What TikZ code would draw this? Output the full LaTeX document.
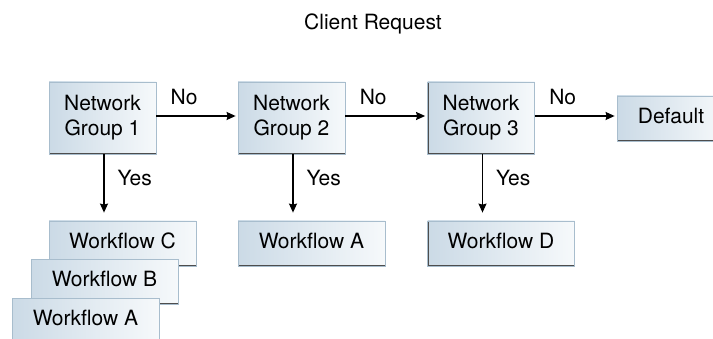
\documentclass[tikz,border=0pt]{standalone}
\usepackage{fontspec}
\setmainfont{TeX Gyre Heros}
\usetikzlibrary{arrows.meta}
\definecolor{boxleft}{HTML}{CBDAE6}
\definecolor{boxright}{HTML}{F6F9FB}
\definecolor{boxedge}{HTML}{A8BDCD}
\definecolor{boxshade}{HTML}{4D4D4D}
\begin{document}
\begin{tikzpicture}[x=1pt, y=-1pt, font=\fontsize{21}{25}\selectfont,
    box/.style={draw=boxedge, line width=.8pt, left color=boxleft, right color=boxright, inner sep=0pt,
      path picture={\draw[boxshade, line width=2.4pt] (path picture bounding box.north west)
        -- (path picture bounding box.south west) -- (path picture bounding box.south east);}},
    grp/.style={box, align=center, minimum width=107pt, minimum height=72pt},
    flow/.style={box, minimum width=147pt, minimum height=45pt, text height=15pt, text depth=5pt},
    arr/.style={-{Stealth[length=9pt, width=8pt, inset=1pt]}, line width=1.2pt},
    lbl/.style={inner sep=0pt}]
    \useasboundingbox (0,0) rectangle (713,339);
    \node[anchor=base] (req) at (373,30) {Client Request};

    \node[grp] (ng1) at (102.5,118) {Network\\Group 1};
    \node[grp] (ng2) at (291.5,118) {Network\\Group 2};
    \node[grp] (ng3) at (481,118) {Network\\Group 3};
    \node[flow, minimum width=108pt] (dflt) at (671,118.5) {Default};

    \node[flow] (wfc) at (122.5,243.5) {Workflow C};
    \node[flow] (wfb) at (104.5,282) {Workflow B};
    \node[flow] (wfa) at (85.5,321) {Workflow A};
    \node[flow] (wfa2) at (311.5,243.5) {Workflow A};
    \node[flow] (wfd) at (501,243.5) {Workflow D};

    \draw[arr, shorten >=2pt] ([yshift=2pt]ng1.east) -- ([yshift=2pt]ng2.west) node[lbl, pos=.34, above=11pt] {No};
    \draw[arr, shorten >=2pt] ([yshift=2pt]ng2.east) -- ([yshift=2pt]ng3.west) node[lbl, pos=.34, above=11pt] {No};
    \draw[arr, shorten >=2pt] ([yshift=2pt]ng3.east) -- ([yshift=2pt]ng3.east -| dflt.west) node[lbl, pos=.34, above=11pt] {No};

    \draw[arr, shorten >=8pt] ([xshift=1.5pt]ng1.south) -- ([xshift=1.5pt]ng1.south |- wfc.north) node[lbl, pos=.36, right=13pt] {Yes};
    \draw[arr, shorten >=8pt] ([xshift=1.5pt]ng2.south) -- ([xshift=1.5pt]ng2.south |- wfa2.north) node[lbl, pos=.36, right=13pt] {Yes};
    \draw[arr, shorten >=8pt] ([xshift=1.5pt]ng3.south) -- ([xshift=1.5pt]ng3.south |- wfd.north) node[lbl, pos=.36, right=13pt] {Yes};
\end{tikzpicture}
\end{document}
